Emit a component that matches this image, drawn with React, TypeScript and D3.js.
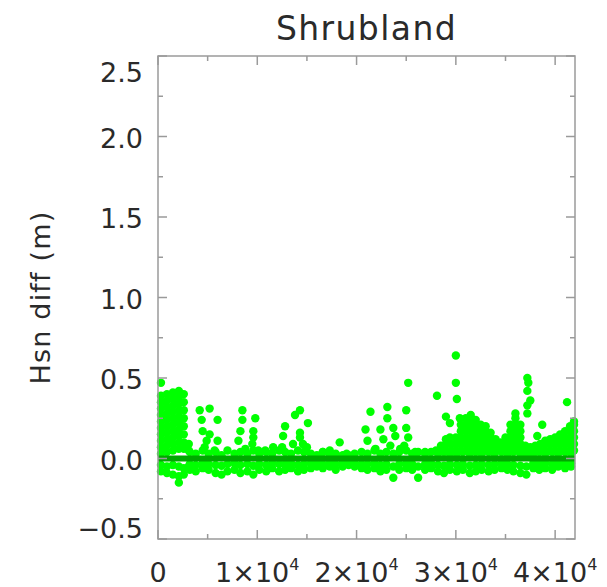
import React from "react";
import * as d3 from "d3";

// ---- data (x in thousands of samples, y in metres) ----
const title = "Shrubland";
const yLabel = "Hsn diff  (m)";
const xDomain = [0, 42000];
const yDomain = [-0.5, 2.5];
const xMajor = [0, 10000, 20000, 30000, 40000];
const xMinor = [5000, 15000, 25000, 35000];
const yMajor = [-0.5, 0, 0.5, 1.0, 1.5, 2.0, 2.5];
const yMinor = [-0.25, 0.25, 0.75, 1.25, 1.75, 2.25];
const meanLine = 0.0;

// dense cluster at the start of the record: [x, [y...]]
const startCols: [number, number[]][] = [
  [0.3, [0.47, 0.39, 0.35, 0.31, 0.27, 0.23, 0.19, 0.15, 0.11, 0.07, 0.03, -0.04, -0.08]],
  [0.9, [0.4, 0.36, 0.32, 0.28, 0.24, 0.2, 0.16, 0.12, 0.08, 0.04, -0.05, -0.09]],
  [1.5, [0.41, 0.37, 0.33, 0.29, 0.25, 0.21, 0.17, 0.13, 0.09, 0.05, -0.04, -0.1]],
  [2.1, [0.42, 0.38, 0.34, 0.3, 0.26, 0.22, 0.18, 0.14, 0.1, 0.06, -0.05, -0.11, -0.15]],
  [2.6, [0.4, 0.35, 0.3, 0.25, 0.2, 0.15, 0.1, 0.06, -0.06, -0.1]],
  [3.1, [0.09, 0.05, -0.05]],
];

// scattered points in the middle and outliers: [x, y]
const scatterPts: [number, number][] = [
  [4.2, 0.3], [5.2, 0.31], [4.4, 0.24], [6.0, 0.24], [4.5, 0.17], [5.2, 0.15], [6.0, 0.11], [4.9, 0.11], [4.7, 0.07], [5.7, 0.05],
  [8.5, 0.3], [8.5, 0.24], [9.8, 0.25], [8.3, 0.17], [9.6, 0.17], [8.1, 0.11], [9.6, 0.13], [9.5, 0.09], [8.8, 0.06], [10.1, 0.05],
  [14.3, 0.3], [13.8, 0.27], [15.1, 0.22], [12.8, 0.2], [14.3, 0.16], [12.6, 0.14], [14.3, 0.13], [11.6, 0.07], [12.5, 0.07], [15.0, 0.07], [13.6, 0.09], [10.8, 0.05], [14.6, 0.09],
  [17.3, 0.05], [18.3, 0.1], [19.0, 0.03], [16.6, 0.04],
  [21.4, 0.29], [23.1, 0.32], [23.1, 0.25], [20.9, 0.18], [22.4, 0.18], [23.7, 0.19], [21.1, 0.11], [22.7, 0.12], [21.9, 0.06], [23.4, 0.08], [24.4, 0.06], [23.9, 0.14], [24.8, 0.08], [25.9, 0.04], [26.9, 0.04],
  [25.2, 0.47], [25.0, 0.3], [25.0, 0.19], [25.2, 0.13],
  [28.1, 0.39], [29.0, 0.26], [29.4, 0.22], [30.4, 0.25], [29.4, 0.13],
  [30.0, 0.64], [30.0, 0.47], [30.1, 0.37],
  [37.2, 0.5], [37.3, 0.47], [37.2, 0.42], [37.5, 0.36], [37.2, 0.28], [37.2, 0.33], [38.7, 0.21], [38.2, 0.14], [41.2, 0.35],
];

// baseline band around zero: x positions with a lower, a middle and an upper point
const bandX = [3.2, 3.8, 4.5, 5.1, 5.8, 6.4, 7.0, 7.7, 8.3, 9.0, 9.6, 10.2, 10.9, 11.5, 12.2, 12.8, 13.4, 14.1, 14.7, 15.4, 16.0, 16.6, 17.3, 17.9, 18.6, 19.2, 19.8, 20.5, 21.1, 21.8, 22.4, 23.0, 23.7, 24.3, 25.0, 25.6, 26.2, 26.9, 27.5, 28.2, 28.8, 29.4, 30.1, 30.7, 31.4, 32.0, 32.6, 33.3, 33.9, 34.6, 35.2, 35.8, 36.5, 37.1, 37.8, 38.4, 39.0, 39.7, 40.3, 41.0, 41.6];
const bandLo = [-0.07, -0.08, -0.06, -0.07, -0.09, -0.1, -0.08, -0.07, -0.09, -0.08, -0.1, -0.07, -0.08, -0.06, -0.08, -0.07, -0.06, -0.08, -0.07, -0.06, -0.05, -0.06, -0.05, -0.07, -0.05, -0.04, -0.05, -0.06, -0.07, -0.06, -0.08, -0.07, -0.12, -0.07, -0.06, -0.07, -0.12, -0.07, -0.06, -0.08, -0.09, -0.07, -0.08, -0.07, -0.09, -0.08, -0.07, -0.08, -0.07, -0.06, -0.07, -0.08, -0.09, -0.1, -0.06, -0.07, -0.06, -0.07, -0.05, -0.06, -0.05];
const bandMid = [-0.035, -0.04, -0.03, -0.035, -0.04, -0.045, -0.035, -0.03, -0.04, -0.035, -0.045, -0.035, -0.04, -0.03, -0.035, -0.035, -0.03, -0.04, -0.035, -0.03, -0.03, -0.035, -0.03, -0.035, -0.03, -0.03, -0.03, -0.035, -0.035, -0.03, -0.04, -0.035, -0.05, -0.035, -0.03, -0.035, -0.05, -0.035, -0.03, -0.04, -0.045, -0.035, -0.04, -0.035, -0.045, -0.04, -0.035, -0.04, -0.035, -0.03, -0.035, -0.04, -0.045, -0.05, -0.03, -0.035, -0.03, -0.035, -0.03, -0.03, -0.03];
const bandHi = [0.04, 0.03, 0.05, 0.03, 0.04, 0.02, 0.05, 0.03, 0.04, 0.03, 0.05, 0.03, 0.04, 0.03, 0.05, 0.04, 0.03, 0.05, 0.04, 0.03, 0.02, 0.04, 0.02, 0.03, 0.02, 0.02, 0.03, 0.04, 0.03, 0.05, 0.03, 0.04, 0.03, 0.04, 0.05, 0.03, 0.04, 0.03, 0.04, 0.03, 0.04, 0.03, 0.03, 0.04, 0.03, 0.04, 0.03, 0.04, 0.03, 0.04, 0.03, 0.04, 0.03, 0.03, 0.03, 0.04, 0.03, 0.04, 0.03, 0.04, 0.03];

// dense cluster in the last part of the record: [x, [y...]]
const eastCols: [number, number[]][] = [
  [28.0, [0.05]],
  [28.5, [0.05, 0.08]],
  [29.0, [0.05, 0.09, 0.12]],
  [29.5, [0.05, 0.09]],
  [30.0, [0.05, 0.09, 0.13]],
  [30.5, [0.05, 0.09, 0.13, 0.17, 0.21]],
  [31.0, [0.05, 0.09, 0.13, 0.17, 0.21, 0.25]],
  [31.5, [0.05, 0.09, 0.13, 0.17, 0.21, 0.25, 0.27]],
  [32.0, [0.05, 0.09, 0.13, 0.17, 0.21, 0.24]],
  [32.5, [0.05, 0.09, 0.13, 0.17, 0.21]],
  [33.0, [0.05, 0.09, 0.13, 0.17, 0.2]],
  [33.5, [0.05, 0.09, 0.13, 0.16]],
  [34.0, [0.05, 0.09, 0.12]],
  [34.5, [0.05, 0.08, 0.1]],
  [35.0, [0.05, 0.09, 0.13]],
  [35.5, [0.05, 0.09, 0.13, 0.17, 0.21]],
  [36.0, [0.05, 0.09, 0.13, 0.17, 0.21, 0.25, 0.28]],
  [36.5, [0.05, 0.09, 0.13, 0.17, 0.21]],
  [37.0, [0.04, 0.08]],
  [37.5, [0.04, 0.07]],
  [38.0, [0.05, 0.08]],
  [38.5, [0.05, 0.09]],
  [39.0, [0.05, 0.09, 0.11]],
  [39.5, [0.05, 0.09, 0.12]],
  [40.0, [0.05, 0.09, 0.13]],
  [40.5, [0.05, 0.09, 0.13, 0.15]],
  [41.0, [0.05, 0.09, 0.13, 0.17]],
  [41.5, [0.05, 0.09, 0.13, 0.17, 0.2]],
  [41.9, [0.05, 0.09, 0.13, 0.17, 0.21, 0.23]],
];

const W = 607;
const H = 587;
const M = { left: 158, right: 575, top: 56, bottom: 539 };
const FONT = "'DejaVu Sans', sans-serif";

export default function App() {
  const x = d3.scaleLinear().domain(xDomain).range([M.left, M.right]);
  const y = d3.scaleLinear().domain(yDomain).range([M.bottom, M.top]);

  const pts: [number, number][] = [];
  startCols.forEach(([cx, ys]) => ys.forEach((v) => pts.push([cx, v])));
  bandX.forEach((cx, i) => {
    pts.push([cx, bandLo[i]]);
    pts.push([cx, bandMid[i]]);
    pts.push([cx, bandHi[i]]);
  });
  eastCols.forEach(([cx, ys]) => ys.forEach((v) => pts.push([cx, v])));
  scatterPts.forEach((p) => pts.push(p));

  const axisColor = "#9a9a9a";
  const textColor = "#2a2a2a";
  const majLen = 9;
  const minLen = 5;

  const yLabelPos = (v: number) =>
    Math.min(Math.max(y(v) + 11, M.top + 26), M.bottom - 1);

  return (
    <svg width={W} height={H} style={{ position: "absolute", left: 0, top: 0, background: "#fff" }}>
      <text x={(M.left + M.right) / 2} y={40} textAnchor="middle" fontFamily={FONT} fontSize={33} letterSpacing={1.4} fill={textColor}>
        {title}
      </text>
      <g>
        {pts.map(([px, py], i) => (
          <circle key={i} cx={x(px * 1000)} cy={y(py)} r={4.2} fill="#00ff00" />
        ))}
      </g>
      <line x1={x(xDomain[0])} x2={x(xDomain[1])} y1={y(meanLine)} y2={y(meanLine)} stroke="#00a800" strokeWidth={6} />
      <rect x={M.left} y={M.top} width={M.right - M.left} height={M.bottom - M.top} fill="none" stroke={axisColor} strokeWidth={1.5} />
      {xMajor.map((v) => (
        <g key={"xm" + v}>
          <line x1={x(v)} x2={x(v)} y1={M.bottom} y2={M.bottom - majLen} stroke={axisColor} strokeWidth={1.5} />
          <line x1={x(v)} x2={x(v)} y1={M.top} y2={M.top + majLen} stroke={axisColor} strokeWidth={1.5} />
        </g>
      ))}
      {xMinor.map((v) => (
        <g key={"xn" + v}>
          <line x1={x(v)} x2={x(v)} y1={M.bottom} y2={M.bottom - minLen} stroke={axisColor} strokeWidth={1.5} />
          <line x1={x(v)} x2={x(v)} y1={M.top} y2={M.top + minLen} stroke={axisColor} strokeWidth={1.5} />
        </g>
      ))}
      {yMajor.map((v) => (
        <g key={"ym" + v}>
          <line x1={M.left} x2={M.left + majLen} y1={y(v)} y2={y(v)} stroke={axisColor} strokeWidth={1.5} />
          <line x1={M.right} x2={M.right - majLen} y1={y(v)} y2={y(v)} stroke={axisColor} strokeWidth={1.5} />
          <text x={143} y={yLabelPos(v)} textAnchor="end" fontFamily={FONT} fontSize={27} fill={textColor}>
            {v < 0 ? "\u2212" + Math.abs(v).toFixed(1) : v.toFixed(1)}
          </text>
        </g>
      ))}
      {yMinor.map((v) => (
        <g key={"yn" + v}>
          <line x1={M.left} x2={M.left + minLen} y1={y(v)} y2={y(v)} stroke={axisColor} strokeWidth={1.5} />
          <line x1={M.right} x2={M.right - minLen} y1={y(v)} y2={y(v)} stroke={axisColor} strokeWidth={1.5} />
        </g>
      ))}
      {xMajor.map((v) => (
        <text key={"xl" + v} x={x(v)} y={582} textAnchor="middle" fontFamily={FONT} fontSize={27} fill={textColor}>
          {v === 0 ? (
            "0"
          ) : (
            <>
              <tspan>{`${v / 10000}\u00d710`}</tspan>
              <tspan dy={-12} fontSize={16}>4</tspan>
            </>
          )}
        </text>
      ))}
      <text
        transform={`translate(50, ${(M.top + M.bottom) / 2}) rotate(-90)`}
        textAnchor="middle"
        fontFamily={FONT}
        fontSize={27}
        letterSpacing={1.2}
        fill={textColor}
      >
        {yLabel}
      </text>
    </svg>
  );
}
